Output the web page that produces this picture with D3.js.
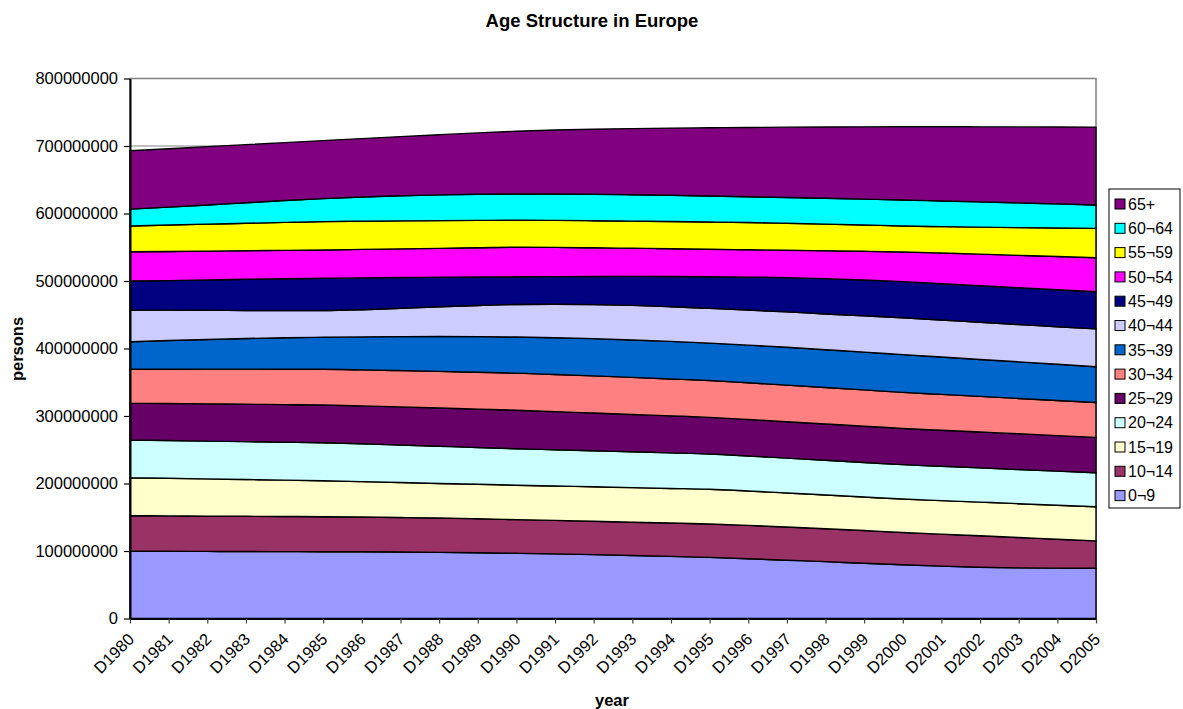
<!DOCTYPE html>
<html>
<head>
<meta charset="utf-8">
<script src="https://cdn.jsdelivr.net/npm/d3@7"></script>
<style>
  body { margin: 0; background: #fff; }
  svg { font-family: Arial, "Liberation Sans", sans-serif; }
</style>
</head>
<body>
<div id="vis"></div>
<script>
// data: persons per age group, in millions, D1980 .. D2005
const years = ["D1980","D1981","D1982","D1983","D1984","D1985","D1986","D1987","D1988","D1989",
               "D1990","D1991","D1992","D1993","D1994","D1995","D1996","D1997","D1998","D1999",
               "D2000","D2001","D2002","D2003","D2004","D2005"];

const groups = ["0¬9","10¬14","15¬19","20¬24","25¬29","30¬34","35¬39","40¬44","45¬49","50¬54","55¬59","60¬64","65+"];

const age0_9   = [100.0,99.6,99.4,99.2,99.1,99.0,98.8,98.5,98.0,97.4,96.6,95.7,94.6,93.4,92.0,90.5,88.6,86.4,84.2,81.8,79.6,77.6,76.0,75.0,74.6,74.4];
const age10_14 = [52.3,52.4,52.3,52.2,52.0,51.8,51.5,51.1,50.8,50.3,49.9,49.6,49.4,49.3,49.4,49.5,49.4,49.2,48.8,48.5,47.9,47.4,46.5,45.0,42.9,40.6];
const age15_19 = [56.3,55.7,55.1,54.5,53.9,53.2,52.5,51.9,51.3,51.1,51.0,51.0,51.1,51.2,51.3,51.5,50.9,50.4,50.0,49.7,49.5,49.7,49.9,50.1,50.3,50.6];
const age20_24 = [55.8,55.9,56.0,56.1,56.2,56.4,56.0,55.5,55.1,54.6,54.0,53.7,53.4,53.1,52.7,52.2,51.9,51.6,51.4,51.2,51.0,50.9,50.8,50.7,50.6,50.4];
const age25_29 = [54.6,54.9,55.2,55.4,55.7,55.9,56.2,56.5,56.7,56.8,57.0,56.5,55.9,55.3,54.8,54.3,54.0,53.9,53.8,53.7,53.5,53.3,53.1,52.9,52.6,52.4];
const age30_34 = [50.2,50.8,51.4,52.0,52.4,52.9,53.4,53.8,54.2,54.6,55.0,55.0,55.0,54.9,54.7,54.5,54.4,54.3,54.1,53.8,53.5,53.1,52.7,52.3,52.0,51.6];
const age35_39 = [40.8,42.5,44.0,45.4,46.6,47.4,48.8,50.3,51.7,52.8,53.5,54.5,55.2,55.5,55.6,55.5,55.8,56.0,55.9,56.0,56.0,55.4,54.8,54.2,53.6,53.0];
const age40_44 = [47.0,45.0,43.2,41.6,40.3,39.7,40.3,41.9,44.0,46.2,48.2,49.5,50.4,51.2,51.4,51.5,52.0,52.4,53.0,53.7,54.5,54.8,55.1,55.4,55.7,56.0];
const age45_49 = [43.0,43.8,45.0,46.2,47.2,47.7,47.1,45.6,43.7,42.1,41.0,41.0,41.7,42.9,44.8,46.9,48.8,50.8,52.3,53.0,53.5,53.8,54.1,54.4,54.7,55.0];
const age50_54 = [43.4,43.2,42.7,42.3,42.0,42.0,42.2,42.5,42.9,43.3,43.8,43.3,42.5,41.7,41.1,40.6,40.5,40.6,41.3,42.6,44.0,45.5,46.8,48.0,49.2,50.5];
const age55_59 = [38.1,39.2,40.0,40.6,41.4,42.0,41.8,41.5,41.1,40.6,40.0,40.0,40.1,40.2,40.3,40.4,40.3,39.9,39.5,39.0,38.5,39.1,40.0,41.1,42.3,43.5];
const age60_64 = [25.0,26.5,28.4,30.5,32.4,34.0,35.8,37.1,38.1,38.7,38.9,39.0,39.2,39.1,38.9,38.6,38.3,38.3,38.3,38.3,38.5,38.0,37.4,36.6,35.7,34.6];
const age65    = [86.5,86.5,86.3,86.0,85.8,86.0,86.6,87.7,89.1,90.9,92.9,94.8,96.4,98.0,99.5,101.0,102.6,104.1,105.6,107.1,108.5,109.9,111.2,112.6,114.0,115.4];

const yTicks = [0,100000000,200000000,300000000,400000000,500000000,600000000,700000000,800000000];

const series = [age0_9,age10_14,age15_19,age20_24,age25_29,age30_34,age35_39,age40_44,age45_49,age50_54,age55_59,age60_64,age65];
const colors = ["#9999FF","#993366","#FFFFCC","#CCFFFF","#660066","#FF8080","#0066CC","#CCCCFF","#000080","#FF00FF","#FFFF00","#00FFFF","#800080"];

// frame
const FRAME_WIDTH = 1183;
const FRAME_HEIGHT = 709;
const PLOT = {left: 130, right: 1096, top: 78.5, bottom: 618.5};
const FONT = "Arial, 'Liberation Sans', sans-serif";

const svg = d3.select("#vis")
    .append("svg")
        .attr("width", FRAME_WIDTH)
        .attr("height", FRAME_HEIGHT);

// build rows for d3.stack
const table = years.map((y, i) => {
    const row = {year: y};
    groups.forEach((g, k) => { row[g] = series[k][i] * 1e6; });
    return row;
});

const stacked = d3.stack().keys(groups)(table);

const X_SCALE = d3.scalePoint()
    .domain(years)
    .range([PLOT.left, PLOT.right]);

const Y_SCALE = d3.scaleLinear()
    .domain([0, 800000000])
    .range([PLOT.bottom, PLOT.top]);

// gridlines
svg.append("g")
    .selectAll("line")
    .data(yTicks.slice(1))
    .enter()
    .append("line")
        .attr("x1", PLOT.left)
        .attr("x2", PLOT.right)
        .attr("y1", d => Y_SCALE(d))
        .attr("y2", d => Y_SCALE(d))
        .attr("stroke", "#808080")
        .attr("stroke-width", 1);

// plot border (top + right)
svg.append("rect")
    .attr("x", PLOT.left)
    .attr("y", PLOT.top)
    .attr("width", PLOT.right - PLOT.left)
    .attr("height", PLOT.bottom - PLOT.top)
    .attr("fill", "none")
    .attr("stroke", "#808080")
    .attr("stroke-width", 1.5);

// areas
const area = d3.area()
    .x(d => X_SCALE(d.data.year))
    .y0(d => Y_SCALE(d[0]))
    .y1(d => Y_SCALE(d[1]))
    .curve(d3.curveMonotoneX);

svg.append("g")
    .selectAll("path")
    .data(stacked)
    .enter()
    .append("path")
        .attr("d", area)
        .attr("fill", (d, i) => colors[i])
        .attr("stroke", "#000")
        .attr("stroke-width", 1.4)
        .attr("stroke-linejoin", "round");

// axes
const yAxis = svg.append("g")
    .attr("transform", "translate(" + PLOT.left + ",0)")
    .call(d3.axisLeft(Y_SCALE).tickValues(yTicks).tickFormat(d3.format("d")).tickSize(6).tickSizeOuter(0));
yAxis.select(".domain").attr("stroke", "#000").attr("stroke-width", 2);
yAxis.selectAll(".tick line").attr("stroke", "#000").attr("stroke-width", 1.2);
yAxis.selectAll("text").attr("font-size", "16.5px").attr("fill", "#000")
    .attr("font-family", FONT).attr("x", -12);

const xAxis = svg.append("g")
    .attr("transform", "translate(0," + PLOT.bottom + ")")
    .call(d3.axisBottom(X_SCALE).tickSize(5).tickSizeOuter(0));
xAxis.select(".domain").attr("stroke", "#000").attr("stroke-width", 2);
xAxis.selectAll(".tick line").attr("stroke", "#444").attr("stroke-width", 1.2);
xAxis.selectAll("text")
    .attr("font-size", "16.5px")
    .attr("fill", "#000")
    .attr("font-family", FONT)
    .attr("text-anchor", "end")
    .attr("transform", "translate(-4,13) rotate(-45)")
    .attr("x", 0)
    .attr("y", 0)
    .attr("dy", "0.75em");

// title and axis titles
svg.append("text")
    .attr("x", 592)
    .attr("y", 27)
    .attr("text-anchor", "middle")
    .attr("font-weight", "bold")
    .attr("font-size", "18.5px")
    .text("Age Structure in Europe");

svg.append("text")
    .attr("x", 612)
    .attr("y", 706)
    .attr("text-anchor", "middle")
    .attr("font-weight", "bold")
    .attr("font-size", "16.5px")
    .text("year");

svg.append("text")
    .attr("transform", "translate(23,349) rotate(-90)")
    .attr("text-anchor", "middle")
    .attr("font-weight", "bold")
    .attr("font-size", "16.5px")
    .text("persons");

// legend (top entry is 65+)
const LEG = {x: 1109, y: 189, w: 71, h: 319, step: 24.3};
const legend = svg.append("g");
legend.append("rect")
    .attr("x", LEG.x)
    .attr("y", LEG.y)
    .attr("width", LEG.w)
    .attr("height", LEG.h)
    .attr("fill", "#fff")
    .attr("stroke", "#000")
    .attr("stroke-width", 1);

const legItems = groups.map((g, i) => ({name: g, color: colors[i]})).reverse();

const legRows = legend.selectAll(".leg")
    .data(legItems)
    .enter()
    .append("g")
        .attr("class", "leg")
        .attr("transform", (d, i) => "translate(" + (LEG.x + 6) + "," + (LEG.y + 15 + i * LEG.step) + ")");

legRows.append("rect")
    .attr("x", 0)
    .attr("y", -5)
    .attr("width", 10)
    .attr("height", 10)
    .attr("fill", d => d.color)
    .attr("stroke", "#000")
    .attr("stroke-width", 1);

legRows.append("text")
    .attr("x", 13)
    .attr("y", 0)
    .attr("dy", "0.36em")
    .attr("font-size", "16px")
    .text(d => d.name);
</script>
</body>
</html>
